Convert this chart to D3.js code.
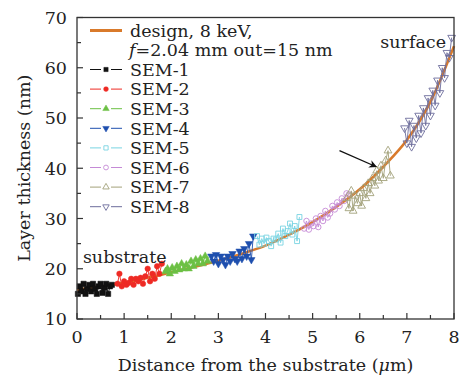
<!DOCTYPE html>
<html>
<head>
<meta charset="utf-8">
<script src="https://cdn.jsdelivr.net/npm/d3@7"></script>
<style>
  html, body { margin: 0; padding: 0; background: #fff; }
  svg { display: block; font-family: "DejaVu Serif", "Liberation Serif", serif; }
</style>
</head>
<body>
<svg id="chart" width="460" height="376"></svg>
<script>
// design curve (8 keV, f=2.04 mm, out=15 nm)
const designX = [0, 0.5, 1, 1.5, 2, 2.5, 3, 3.5, 4, 4.5, 5, 5.5, 6, 6.5, 7, 7.5, 8];
const designY = [15.8, 16.5, 17.2, 18.2, 19.3, 20.4, 21.6, 23.0, 24.6, 26.8, 29.3, 32.3, 35.8, 40.3, 45.6, 53.2, 64.3];

// SEM measurements, one pair of arrays per sample
const sem1X = [0.02, 0.06, 0.1, 0.14, 0.18, 0.22, 0.26, 0.3, 0.34, 0.38, 0.42, 0.46, 0.5, 0.54, 0.58, 0.62, 0.66, 0.7, 0.74];
const sem1Y = [15.0, 16.5, 15.5, 17.0, 15.0, 16.0, 16.8, 15.5, 17.0, 16.0, 15.0, 16.5, 17.0, 15.2, 16.2, 17.0, 15.0, 16.5, 16.8];
const sem2X = [0.86, 0.9, 0.95, 1.0, 1.05, 1.1, 1.15, 1.2, 1.25, 1.3, 1.35, 1.4, 1.45, 1.5, 1.55, 1.6, 1.65, 1.7, 1.75, 1.8];
const sem2Y = [17.0, 19.0, 16.5, 17.5, 16.8, 17.2, 18.0, 16.8, 18.0, 17.5, 18.2, 17.0, 18.5, 20.0, 17.5, 19.0, 18.0, 20.5, 19.0, 21.0];
const sem3X = [1.88, 1.92, 1.97, 2.02, 2.07, 2.12, 2.17, 2.22, 2.27, 2.32, 2.37, 2.42, 2.47, 2.52, 2.57, 2.62, 2.67, 2.72, 2.77];
const sem3Y = [19.5, 20.0, 19.0, 20.2, 19.5, 20.5, 19.8, 21.0, 20.0, 20.8, 20.0, 21.5, 20.5, 21.8, 21.0, 22.0, 21.0, 22.5, 21.5];
const sem4X = [2.85, 2.9, 2.95, 3.0, 3.05, 3.1, 3.15, 3.2, 3.25, 3.3, 3.35, 3.4, 3.45, 3.5, 3.55, 3.6, 3.65, 3.7, 3.74];
const sem4Y = [22.5, 21.5, 22.8, 21.0, 22.5, 21.8, 20.8, 22.5, 21.5, 23.0, 22.0, 21.5, 23.5, 22.0, 24.0, 22.5, 25.0, 21.8, 26.5];
const sem5X = [3.82, 3.87, 3.92, 3.97, 4.02, 4.07, 4.12, 4.17, 4.22, 4.27, 4.32, 4.37, 4.42, 4.47, 4.52, 4.57, 4.62, 4.67, 4.72];
const sem5Y = [26.5, 24.8, 26.0, 25.0, 26.2, 25.5, 24.5, 26.0, 25.8, 27.0, 25.2, 28.0, 26.5, 27.5, 29.0, 26.8, 28.5, 25.5, 30.3];
const sem6X = [4.82, 4.87, 4.92, 4.97, 5.02, 5.07, 5.12, 5.17, 5.22, 5.27, 5.32, 5.37, 5.42, 5.47, 5.52, 5.57, 5.62, 5.67, 5.72, 5.77];
const sem6Y = [28.0, 29.5, 27.8, 29.0, 28.5, 30.0, 28.3, 30.5, 29.5, 31.5, 30.2, 31.0, 32.5, 31.8, 33.2, 32.5, 34.0, 33.5, 35.0, 34.8];
const sem7X = [5.72, 5.77, 5.82, 5.86, 5.9, 5.95, 6.0, 6.04, 6.08, 6.13, 6.18, 6.22, 6.27, 6.32, 6.36, 6.4, 6.45, 6.5, 6.55, 6.6, 6.65];
const sem7Y = [34.0, 32.0, 35.5, 31.5, 34.5, 33.0, 35.0, 32.5, 36.0, 34.0, 37.0, 35.0, 38.0, 36.5, 39.5, 37.5, 40.5, 38.0, 41.5, 43.5, 38.5];
const sem8X = [6.95, 7.0, 7.05, 7.1, 7.15, 7.2, 7.25, 7.3, 7.35, 7.4, 7.45, 7.5, 7.55, 7.6, 7.65, 7.7, 7.75, 7.8, 7.85, 7.9, 7.95];
const sem8Y = [48.0, 45.0, 49.5, 44.3, 48.5, 46.0, 50.5, 47.0, 52.0, 48.5, 54.0, 50.5, 55.5, 52.5, 57.5, 55.0, 60.0, 58.0, 63.0, 62.0, 66.0];

const seriesNames = ["SEM-1", "SEM-2", "SEM-3", "SEM-4", "SEM-5", "SEM-6", "SEM-7", "SEM-8"];
const xTicks = [0, 1, 2, 3, 4, 5, 6, 7, 8];
const yTicks = [10, 20, 30, 40, 50, 60, 70];

const series = [
  { name: seriesNames[0], xs: sem1X, ys: sem1Y, color: "#111111", symbol: d3.symbolSquare, size: 28, filled: true, rot: 0 },
  { name: seriesNames[1], xs: sem2X, ys: sem2Y, color: "#ee2a24", symbol: d3.symbolCircle, size: 24, filled: true, rot: 0 },
  { name: seriesNames[2], xs: sem3X, ys: sem3Y, color: "#6cc044", symbol: d3.symbolTriangle, size: 24, filled: true, rot: 0 },
  { name: seriesNames[3], xs: sem4X, ys: sem4Y, color: "#1e4fae", symbol: d3.symbolTriangle, size: 24, filled: true, rot: 180 },
  { name: seriesNames[4], xs: sem5X, ys: sem5Y, color: "#78d4e2", symbol: d3.symbolSquare, size: 24, filled: false, rot: 0 },
  { name: seriesNames[5], xs: sem6X, ys: sem6Y, color: "#c58ad6", symbol: d3.symbolCircle, size: 24, filled: false, rot: 0 },
  { name: seriesNames[6], xs: sem7X, ys: sem7Y, color: "#a3a27a", symbol: d3.symbolTriangle, size: 26, filled: false, rot: 0 },
  { name: seriesNames[7], xs: sem8X, ys: sem8Y, color: "#6d6d9c", symbol: d3.symbolTriangle, size: 26, filled: false, rot: 180 },
];

const svg = d3.select("#chart");
const margin = { top: 17.5, right: 6, bottom: 57, left: 77 };
const W = 460, H = 376;
const innerW = W - margin.left - margin.right;
const innerH = H - margin.top - margin.bottom;

const x = d3.scaleLinear().domain([0, 8]).range([0, innerW]);
const y = d3.scaleLinear().domain([10, 70]).range([innerH, 0]);

const root = svg.append("g").attr("transform", `translate(${margin.left},${margin.top})`);
const plot = root.append("g");

// design curve
const designPts = designX.map((d, i) => [d, designY[i]]);
plot.append("path")
  .datum(designPts)
  .attr("d", d3.line().x((d) => x(d[0])).y((d) => y(d[1])).curve(d3.curveMonotoneX))
  .attr("fill", "none")
  .attr("stroke", "#d97a2b")
  .attr("stroke-width", 2.6);

// SEM series
const line = d3.line().x((d) => x(d[0])).y((d) => y(d[1]));
for (const s of series) {
  const pts = s.xs.map((d, i) => [d, s.ys[i]]);
  const g = plot.append("g");
  g.append("path")
    .datum(pts)
    .attr("d", line)
    .attr("fill", "none")
    .attr("stroke", s.color)
    .attr("stroke-width", 0.9);
  g.selectAll("path.m")
    .data(pts)
    .join("path")
    .attr("class", "m")
    .attr("transform", (d) => `translate(${x(d[0])},${y(d[1])}) rotate(${s.rot})`)
    .attr("d", d3.symbol().type(s.symbol).size(s.size))
    .attr("fill", s.filled ? s.color : "none")
    .attr("stroke", s.color)
    .attr("stroke-width", s.filled ? 0.5 : 0.9);
}

// frame
root.append("rect")
  .attr("x", 0).attr("y", 0)
  .attr("width", innerW).attr("height", innerH)
  .attr("fill", "none")
  .attr("stroke", "#333")
  .attr("stroke-width", 1.3);

// ticks (inward) on left and bottom
const xMinor = d3.range(0.5, 8, 1);
const yMinor = d3.range(15, 70, 10);
const tickColor = "#333";
root.append("g").selectAll("line")
  .data(xTicks.map((d) => [d, 6]).concat(xMinor.map((d) => [d, 4])))
  .join("line")
  .attr("x1", (d) => x(d[0])).attr("x2", (d) => x(d[0]))
  .attr("y1", innerH).attr("y2", (d) => innerH - d[1])
  .attr("stroke", tickColor).attr("stroke-width", 1.2);
root.append("g").selectAll("line")
  .data(yTicks.map((d) => [d, 6]).concat(yMinor.map((d) => [d, 4])))
  .join("line")
  .attr("x1", 0).attr("x2", (d) => d[1])
  .attr("y1", (d) => y(d[0])).attr("y2", (d) => y(d[0]))
  .attr("stroke", tickColor).attr("stroke-width", 1.2);

// tick labels
const fs = 17.5;
root.append("g").selectAll("text")
  .data(xTicks)
  .join("text")
  .attr("x", (d) => x(d))
  .attr("y", innerH + 24)
  .attr("text-anchor", "middle")
  .attr("font-size", fs)
  .attr("fill", "#222")
  .text((d) => d);
root.append("g").selectAll("text")
  .data(yTicks)
  .join("text")
  .attr("x", -10)
  .attr("y", (d) => y(d))
  .attr("dy", "0.36em")
  .attr("text-anchor", "end")
  .attr("font-size", fs)
  .attr("fill", "#222")
  .text((d) => d);

// axis titles
const xTitle = root.append("text")
  .attr("x", innerW / 2)
  .attr("y", innerH + 52)
  .attr("text-anchor", "middle")
  .attr("font-size", 17.5)
  .attr("fill", "#222");
xTitle.append("tspan").text("Distance from the substrate (");
xTitle.append("tspan").attr("font-style", "italic").text("μ");
xTitle.append("tspan").text("m)");

root.append("text")
  .attr("transform", `translate(${-47},${innerH / 2}) rotate(-90)`)
  .attr("text-anchor", "middle")
  .attr("font-size", 17.5)
  .attr("fill", "#222")
  .text("Layer thickness (nm)");

// annotations
root.append("text")
  .attr("x", x(1.9)).attr("y", y(21.2))
  .attr("text-anchor", "end")
  .attr("font-size", fs)
  .attr("fill", "#222")
  .text("substrate");
root.append("text")
  .attr("x", x(7.83)).attr("y", y(64))
  .attr("text-anchor", "end")
  .attr("font-size", fs)
  .attr("fill", "#222")
  .text("surface");

svg.append("defs").append("marker")
  .attr("id", "arrowhead")
  .attr("viewBox", "0 0 10 10")
  .attr("refX", 9).attr("refY", 5)
  .attr("markerWidth", 7).attr("markerHeight", 6)
  .attr("orient", "auto")
  .append("path")
  .attr("d", "M0,0 L10,5 L0,10 L3,5 Z")
  .attr("fill", "#111");
root.append("line")
  .attr("x1", x(5.57)).attr("y1", y(43.5))
  .attr("x2", x(6.35)).attr("y2", y(40.3))
  .attr("stroke", "#111")
  .attr("stroke-width", 1.3)
  .attr("marker-end", "url(#arrowhead)");

// legend
const legend = root.append("g").attr("transform", "translate(13,0)");
legend.append("line")
  .attr("x1", 0).attr("x2", 32)
  .attr("y1", 13).attr("y2", 13)
  .attr("stroke", "#d97a2b").attr("stroke-width", 3);
legend.append("text")
  .attr("x", 40).attr("y", 13).attr("dy", "0.36em")
  .attr("font-size", fs).attr("fill", "#222")
  .text("design, 8 keV,");
const l2 = legend.append("text")
  .attr("x", 39).attr("y", 32.5).attr("dy", "0.36em")
  .attr("font-size", fs).attr("fill", "#222");
l2.append("tspan").attr("font-style", "italic").text("f");
l2.append("tspan").text("=2.04 mm out=15 nm");

const rowY = (i) => 52 + i * 19.6;
const rows = legend.selectAll("g.row")
  .data(series)
  .join("g")
  .attr("class", "row")
  .attr("transform", (d, i) => `translate(0,${rowY(i)})`);
rows.append("line")
  .attr("x1", 0).attr("x2", 11).attr("y1", 0).attr("y2", 0)
  .attr("stroke", (d) => d.color).attr("stroke-width", 1);
rows.append("line")
  .attr("x1", 21).attr("x2", 32).attr("y1", 0).attr("y2", 0)
  .attr("stroke", (d) => d.color).attr("stroke-width", 1);
rows.append("path")
  .attr("transform", (d) => `translate(16,0) rotate(${d.rot})`)
  .attr("d", (d) => d3.symbol().type(d.symbol).size(18)())
  .attr("fill", (d) => (d.filled ? d.color : "none"))
  .attr("stroke", (d) => d.color)
  .attr("stroke-width", (d) => (d.filled ? 0.5 : 0.9));
rows.append("text")
  .attr("x", 40).attr("y", 0).attr("dy", "0.36em")
  .attr("font-size", fs).attr("fill", "#222")
  .text((d) => d.name);
</script>
</body>
</html>
